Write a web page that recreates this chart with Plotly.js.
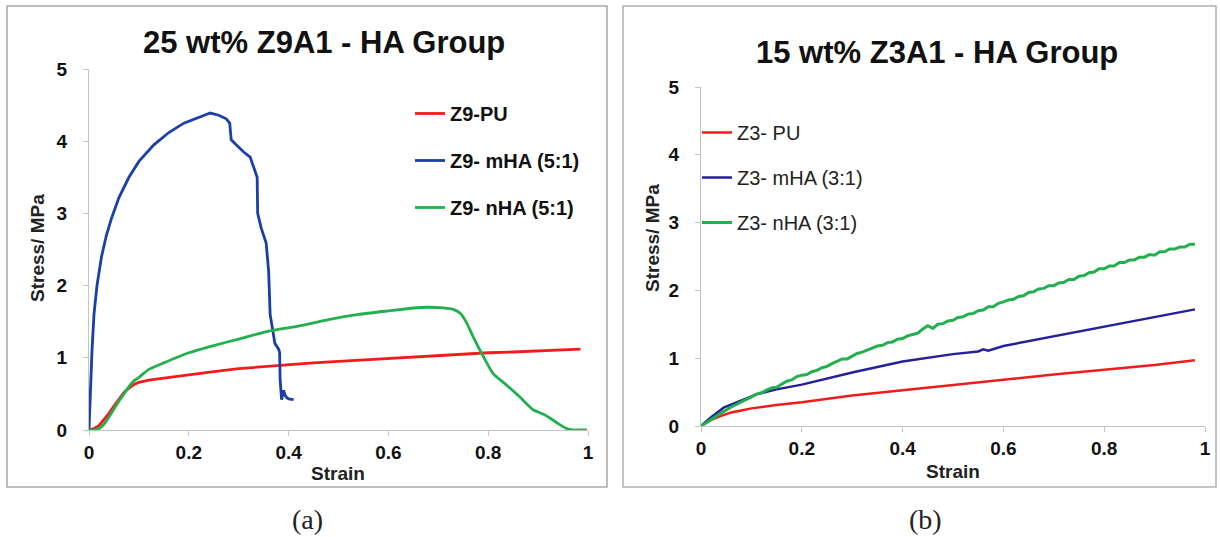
<!DOCTYPE html>
<html>
<head>
<meta charset="utf-8">
<script src="https://cdn.plot.ly/plotly-3.0.1.min.js"></script>
<style>html,body{margin:0;padding:0;background:#fff;}#chart{width:1220px;height:537px;}</style>
</head>
<body>
<div id="chart"></div>
<script>
// ---------- Data: (a) 25 wt% Z9A1 - HA Group ----------
const z9puStrain = [0, 0.01, 0.02, 0.03, 0.04, 0.05, 0.06, 0.07, 0.08, 0.09, 0.10, 0.12, 0.15, 0.20, 0.25, 0.30, 0.35, 0.40, 0.45, 0.50, 0.55, 0.60, 0.65, 0.70, 0.75, 0.80, 0.85, 0.90, 0.95, 0.985];
const z9puStress = [0, 0.02, 0.06, 0.14, 0.23, 0.33, 0.43, 0.52, 0.58, 0.63, 0.66, 0.69, 0.72, 0.77, 0.81, 0.85, 0.88, 0.90, 0.93, 0.95, 0.97, 1.00, 1.02, 1.03, 1.05, 1.07, 1.08, 1.10, 1.11, 1.12];

const z9mhaStrain = [0, 0.003, 0.006, 0.01, 0.016, 0.025, 0.035, 0.045, 0.06, 0.08, 0.10, 0.13, 0.16, 0.19, 0.22, 0.243, 0.26, 0.275, 0.282, 0.285, 0.295, 0.31, 0.323, 0.333, 0.337, 0.338, 0.345, 0.355, 0.36, 0.363, 0.368, 0.3725, 0.38, 0.382, 0.383, 0.386, 0.39, 0.393, 0.396, 0.40, 0.41];
const z9mhaStress = [0, 0.6, 1.1, 1.6, 2.0, 2.4, 2.7, 2.93, 3.22, 3.5, 3.72, 3.95, 4.12, 4.25, 4.33, 4.39, 4.36, 4.31, 4.25, 4.02, 3.95, 3.85, 3.78, 3.6, 3.5, 3.0, 2.8, 2.59, 2.2, 1.6, 1.35, 1.2, 1.12, 1.07, 0.7, 0.42, 0.55, 0.48, 0.45, 0.43, 0.42];

const z9nhaStrain = [0, 0.01, 0.02, 0.03, 0.04, 0.05, 0.06, 0.07, 0.08, 0.09, 0.10, 0.12, 0.15, 0.20, 0.25, 0.30, 0.36, 0.42, 0.48, 0.54, 0.60, 0.65, 0.68, 0.71, 0.73, 0.745, 0.757, 0.77, 0.787, 0.81, 0.837, 0.863, 0.89, 0.91, 0.925, 0.94, 0.957, 0.97, 0.985, 0.998];
const z9nhaStress = [0, 0.0, 0.02, 0.08, 0.18, 0.29, 0.40, 0.50, 0.60, 0.68, 0.73, 0.84, 0.93, 1.07, 1.17, 1.26, 1.37, 1.44, 1.53, 1.60, 1.65, 1.69, 1.70, 1.69, 1.67, 1.61, 1.48, 1.29, 1.06, 0.78, 0.62, 0.46, 0.28, 0.22, 0.16, 0.09, 0.02, 0.0, 0.0, 0.0];

// ---------- Data: (b) 15 wt% Z3A1 - HA Group ----------
const z3puStrain = [0, 0.01, 0.02, 0.04, 0.06, 0.08, 0.10, 0.15, 0.20, 0.30, 0.40, 0.50, 0.60, 0.70, 0.80, 0.90, 0.98];
const z3puStress = [0, 0.05, 0.09, 0.15, 0.20, 0.23, 0.26, 0.31, 0.35, 0.45, 0.53, 0.61, 0.69, 0.76, 0.83, 0.90, 0.97];

const z3mhaStrain = [0, 0.02, 0.045, 0.078, 0.111, 0.15, 0.20, 0.30, 0.40, 0.50, 0.55, 0.56, 0.57, 0.60, 0.70, 0.80, 0.90, 0.98];
const z3mhaStress = [0, 0.13, 0.27, 0.37, 0.47, 0.54, 0.61, 0.79, 0.95, 1.06, 1.10, 1.13, 1.11, 1.18, 1.32, 1.47, 1.60, 1.72];

const z3nhaStrain = [0, 0.02, 0.04, 0.06, 0.08, 0.10, 0.11, 0.12, 0.13, 0.14, 0.15, 0.16, 0.17, 0.18, 0.19, 0.20, 0.21, 0.22, 0.23, 0.24, 0.25, 0.26, 0.27, 0.28, 0.29, 0.30, 0.31, 0.32, 0.33, 0.34, 0.35, 0.36, 0.37, 0.38, 0.39, 0.40, 0.41, 0.42, 0.43, 0.44, 0.45, 0.46, 0.47, 0.48, 0.49, 0.50, 0.51, 0.52, 0.53, 0.54, 0.55, 0.56, 0.57, 0.58, 0.59, 0.60, 0.61, 0.62, 0.63, 0.64, 0.65, 0.66, 0.67, 0.68, 0.69, 0.70, 0.71, 0.72, 0.73, 0.74, 0.75, 0.76, 0.77, 0.78, 0.79, 0.80, 0.81, 0.82, 0.83, 0.84, 0.85, 0.86, 0.87, 0.88, 0.89, 0.90, 0.91, 0.92, 0.93, 0.94, 0.95, 0.96, 0.97, 0.98];
const z3nhaStress = [0, 0.10, 0.19, 0.28, 0.35, 0.43, 0.47, 0.49, 0.53, 0.56, 0.57, 0.61, 0.66, 0.68, 0.73, 0.75, 0.76, 0.80, 0.82, 0.86, 0.88, 0.92, 0.95, 0.99, 0.99, 1.03, 1.07, 1.09, 1.12, 1.14, 1.18, 1.19, 1.23, 1.24, 1.28, 1.29, 1.33, 1.35, 1.37, 1.43, 1.48, 1.44, 1.50, 1.51, 1.55, 1.56, 1.60, 1.61, 1.65, 1.66, 1.70, 1.71, 1.76, 1.76, 1.81, 1.83, 1.86, 1.87, 1.91, 1.92, 1.97, 1.98, 2.02, 2.03, 2.07, 2.07, 2.11, 2.12, 2.16, 2.16, 2.21, 2.22, 2.26, 2.27, 2.32, 2.32, 2.36, 2.36, 2.41, 2.41, 2.45, 2.45, 2.49, 2.49, 2.53, 2.52, 2.57, 2.57, 2.61, 2.61, 2.64, 2.64, 2.68, 2.68];

const namesA = ["Z9-PU", "Z9- mHA (5:1)", "Z9- nHA (5:1)"];
const namesB = ["Z3- PU", "Z3- mHA (3:1)", "Z3- nHA (3:1)"];
const xTicks = [0, 0.2, 0.4, 0.6, 0.8, 1];
const xTickText = ["0", "0.2", "0.4", "0.6", "0.8", "1"];
const yTicks = [0, 1, 2, 3, 4, 5];

// ---------- Styling ----------
const RED = "#f01c1c", BLUE_A = "#1a3fa6", GREEN = "#22b04e", BLUE_B = "#23219a";
const W = 1220, H = 537;
const px = v => v / W;
const py = v => 1 - v / H;
const SANS = "Liberation Sans, Arial, sans-serif";

const traces = [
  {x: z9puStrain, y: z9puStress, name: namesA[0], line: {color: RED, width: 2.8}, xaxis: "x", yaxis: "y", legend: "legend", legendgroup: "a1"},
  {x: z9mhaStrain, y: z9mhaStress, name: namesA[1], line: {color: BLUE_A, width: 2.8}, xaxis: "x", yaxis: "y", legend: "legend", legendgroup: "a2"},
  {x: z9nhaStrain, y: z9nhaStress, name: namesA[2], line: {color: GREEN, width: 2.8, shape: "spline", smoothing: 0.5}, xaxis: "x", yaxis: "y", legend: "legend", legendgroup: "a3"},
  {x: z3puStrain, y: z3puStress, name: namesB[0], line: {color: RED, width: 2.5}, xaxis: "x2", yaxis: "y2", legend: "legend2", legendgroup: "b1"},
  {x: z3mhaStrain, y: z3mhaStress, name: namesB[1], line: {color: BLUE_B, width: 2.5}, xaxis: "x2", yaxis: "y2", legend: "legend2", legendgroup: "b2"},
  {x: z3nhaStrain, y: z3nhaStress, name: namesB[2], line: {color: GREEN, width: 3}, xaxis: "x2", yaxis: "y2", legend: "legend2", legendgroup: "b3"}
].map(t => Object.assign({type: "scatter", mode: "lines", hoverinfo: "x+y+name"}, t));

const tickFont = {family: SANS, size: 19, color: "#111", weight: "bold"};
function xax(domain) {
  return {domain: domain, range: [0, 1], tickvals: xTicks, ticktext: xTickText, ticks: "outside", ticklen: 5,
          tickcolor: "#c4c4c4", showline: true, linecolor: "#c4c4c4", linewidth: 1.3, showgrid: false, zeroline: false,
          tickfont: tickFont, fixedrange: true};
}
function yax(domain, anchor) {
  return {domain: domain, range: [0, 5], tickvals: yTicks, ticks: "outside", ticklen: 5, ticklabelstandoff: 12,
          tickcolor: "#c4c4c4", showline: true, linecolor: "#c4c4c4", linewidth: 1.3, showgrid: false, zeroline: false,
          tickfont: tickFont, anchor: anchor, fixedrange: true};
}
function ann(text, x, y, font, extra) {
  return Object.assign({text: text, x: px(x), y: py(y), xref: "paper", yref: "paper", showarrow: false,
                        xanchor: "center", yanchor: "middle", font: font}, extra || {});
}

const titleFont = {family: SANS, size: 31, color: "#111", weight: "bold"};
const axFont = {family: SANS, size: 19, color: "#222", weight: "bold"};
const capFont = {family: "Liberation Serif, DejaVu Serif, serif", size: 28, color: "#222"};

const layout = {
  width: W, height: H,
  margin: {l: 0, r: 0, t: 0, b: 0},
  paper_bgcolor: "#fff", plot_bgcolor: "rgba(0,0,0,0)",
  showlegend: true,
  xaxis: Object.assign(xax([px(89), px(588)]), {anchor: "y"}),
  yaxis: yax([py(430), py(69)], "x"),
  xaxis2: Object.assign(xax([px(701), px(1205)]), {anchor: "y2"}),
  yaxis2: yax([py(426), py(87)], "x2"),
  legend: {x: px(410), y: py(94), xanchor: "left", yanchor: "top", bgcolor: "rgba(0,0,0,0)",
           font: {family: SANS, size: 20, color: "#111", weight: "bold"}, tracegroupgap: 18, itemwidth: 30},
  legend2: {x: px(697), y: py(113), xanchor: "left", yanchor: "top", bgcolor: "rgba(0,0,0,0)",
            font: {family: SANS, size: 20, color: "#222"}, tracegroupgap: 16, itemwidth: 30},
  shapes: [
    {type: "rect", xref: "paper", yref: "paper", x0: px(7), x1: px(607), y0: py(487), y1: py(6), line: {color: "#a8a8a8", width: 1.5}},
    {type: "rect", xref: "paper", yref: "paper", x0: px(623), x1: px(1216), y0: py(487), y1: py(6), line: {color: "#b0b0b0", width: 1.5}}
  ],
  annotations: [
    ann("25 wt% Z9A1 - HA Group", 324, 42, titleFont),
    ann("15 wt% Z3A1 - HA Group", 937, 52, titleFont),
    ann("Strain", 338, 473, axFont),
    ann("Strain", 953, 471, axFont),
    ann("Stress/ MPa", 38, 248, axFont, {textangle: -90}),
    ann("Stress/ MPa", 652, 238, axFont, {textangle: -90}),
    ann("(a)", 307, 519, capFont),
    ann("(b)", 925, 519, capFont)
  ]
};

Plotly.newPlot("chart", traces, layout, {displayModeBar: false});
</script>
</body>
</html>
